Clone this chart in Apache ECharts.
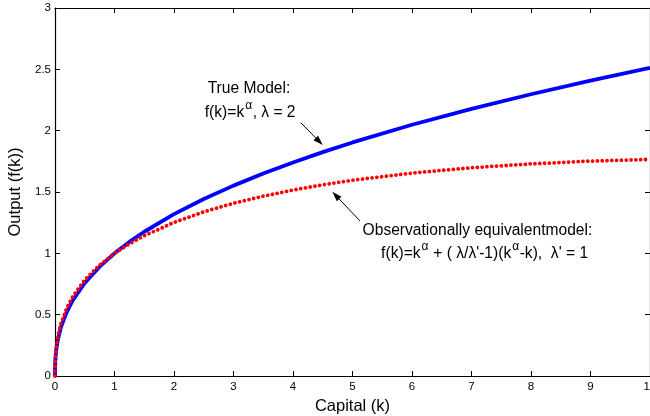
<!DOCTYPE html>
<html>
<head>
<meta charset="utf-8">
<script src="https://cdn.jsdelivr.net/npm/echarts@6/dist/echarts.min.js"></script>
<style>
html,body{margin:0;padding:0;background:#fff;}
#c{width:650px;height:416px;}
</style>
</head>
<body>
<div id="c"></div>
<script>
// Capital values (k)
var capital = [0, 0.001, 0.005, 0.01, 0.02, 0.05, 0.1, 0.2, 0.3, 0.5, 0.75, 1, 1.25, 1.5, 2, 2.5, 3, 3.5, 4, 4.5, 5, 6, 7, 8, 9, 10];
// True model output (blue solid)
var trueModel = [0, 0.063, 0.120, 0.158, 0.209, 0.302, 0.398, 0.525, 0.618, 0.758, 0.891, 1.000, 1.093, 1.176, 1.320, 1.443, 1.552, 1.651, 1.741, 1.825, 1.904, 2.048, 2.178, 2.297, 2.408, 2.512];
// Observationally equivalent model output (red dotted)
var equivModel = [0, 0.069, 0.131, 0.173, 0.228, 0.327, 0.428, 0.557, 0.650, 0.784, 0.905, 1.000, 1.077, 1.144, 1.252, 1.338, 1.408, 1.466, 1.516, 1.559, 1.596, 1.654, 1.698, 1.729, 1.752, 1.766];
var xTicks = [0, 1, 2, 3, 4, 5, 6, 7, 8, 9, 10];
var yTicks = [0, 0.5, 1, 1.5, 2, 2.5, 3];

function pairs(xs, ys) { return xs.map(function (x, i) { return [x, ys[i]]; }); }

var FONT = '"Liberation Sans", Arial, sans-serif';
var chart = echarts.init(document.getElementById('c'), null, { renderer: 'canvas' });

var axisCommon = {
  axisLine: { show: true, onZero: false, lineStyle: { color: '#000', width: 1.2 } },
  axisTick: { show: true, inside: true, length: 5, lineStyle: { color: '#000', width: 1 } },
  splitLine: { show: false }
};

var option = {
  animation: false,
  backgroundColor: '#fff',
  grid: { left: 55, right: 0, top: 8, bottom: 40, containLabel: false, outerBoundsMode: 'none' },
  xAxis: [
    Object.assign({
      type: 'value', min: xTicks[0], max: xTicks[xTicks.length - 1], interval: 1, position: 'bottom',
      name: 'Capital (k)', nameLocation: 'middle', nameGap: 22,
      nameTextStyle: { fontFamily: FONT, fontSize: 16.5, color: '#000' },
      axisLabel: { fontFamily: FONT, fontSize: 11.5, color: '#000', margin: 5, showMaxLabel: true, hideOverlap: false }
    }, axisCommon),
    Object.assign({
      type: 'value', min: xTicks[0], max: xTicks[xTicks.length - 1], interval: 1, position: 'top',
      axisLabel: { show: false }
    }, axisCommon)
  ],
  yAxis: [
    Object.assign({
      type: 'value', min: yTicks[0], max: yTicks[yTicks.length - 1], interval: 0.5, position: 'left',
      name: 'Output (f(k))', nameLocation: 'middle', nameGap: 28, nameRotate: 90,
      nameTextStyle: { fontFamily: FONT, fontSize: 16.5, color: '#000' },
      axisLabel: { fontFamily: FONT, fontSize: 11.5, color: '#000', margin: 4 }
    }, axisCommon),
    Object.assign({
      type: 'value', min: yTicks[0], max: yTicks[yTicks.length - 1], interval: 0.5, position: 'right',
      axisLabel: { show: false }
    }, axisCommon)
  ],
  series: [
    {
      type: 'line', name: 'True Model', data: pairs(capital, trueModel),
      showSymbol: false, symbol: 'none', smooth: false, clip: true,
      lineStyle: { color: '#0000ff', width: 3.8 }
    },
    {
      type: 'line', name: 'Observationally equivalent model', data: pairs(capital, equivModel),
      showSymbol: false, symbol: 'none', smooth: false, clip: true,
      lineStyle: { color: '#ff0000', width: 3.8, type: [0.01, 4.8], cap: 'round' }
    }
  ]
};
chart.setOption(option);

// Annotations positioned in data coordinates (text centres)
var notes = {
  trueText1: [3.26, 2.34],
  trueText2: [3.28, 2.144],
  trueArrowFrom: [4.13, 2.065],
  trueArrowTo: [4.5, 1.883],
  eqText1: [7.10, 1.184],
  eqText2: [7.22, 0.995],
  eqArrowFrom: [5.126, 1.264],
  eqArrowTo: [4.66, 1.502]
};
function px(p) { return chart.convertToPixel({ xAxisIndex: 0, yAxisIndex: 0 }, p); }

var MAIN_SIZE = 15.6, SUP_SIZE = 12, SUP_RAISE = 7;
var measureCtx = document.createElement('canvas').getContext('2d');
function measure(t, size) {
  measureCtx.font = size + 'px ' + FONT;
  return measureCtx.measureText(t).width;
}
// segments: array of [text, isSuperscript]
function lineEls(p, segments) {
  var q = px(p);
  var widths = segments.map(function (s) { return measure(s[0], s[1] ? SUP_SIZE : MAIN_SIZE) + (s[1] ? 1.5 : 0); });
  var total = widths.reduce(function (a, b) { return a + b; }, 0);
  var x = q[0] - total / 2;
  var out = [];
  segments.forEach(function (s, i) {
    out.push({
      type: 'text', x: x + (s[1] ? 1 : 0), y: q[1] - (s[1] ? SUP_RAISE : 0), z: 100,
      style: {
        text: s[0], fontFamily: FONT, fontSize: s[1] ? SUP_SIZE : MAIN_SIZE, fill: '#000',
        align: 'left', verticalAlign: 'middle'
      }
    });
    x += widths[i];
  });
  return out;
}
function arrowEls(from, to) {
  var a = px(from), b = px(to);
  var dx = b[0] - a[0], dy = b[1] - a[1];
  var L = Math.sqrt(dx * dx + dy * dy);
  var ux = dx / L, uy = dy / L;
  var hl = 10, hw = 3.2;
  var bx = b[0] - ux * hl, by = b[1] - uy * hl;
  return [
    { type: 'line', z: 100, shape: { x1: a[0], y1: a[1], x2: bx, y2: by }, style: { stroke: '#000', lineWidth: 1 } },
    { type: 'polygon', z: 100, shape: { points: [[b[0], b[1]], [bx - uy * hw, by + ux * hw], [bx + uy * hw, by - ux * hw]] }, style: { fill: '#000' } }
  ];
}

var els = [];
els = els.concat(lineEls(notes.trueText1, [['True Model:', false]]));
els = els.concat(lineEls(notes.trueText2, [['f(k)=k', false], ['α', true], [', λ = 2', false]]));
els = els.concat(lineEls(notes.eqText1, [['Observationally equivalentmodel:', false]]));
els = els.concat(lineEls(notes.eqText2, [['f(k)=k', false], ['α', true], [" + ( λ/λ'-1)(k", false], ['α', true], ["-k),  λ' = 1", false]]));
els = els.concat(arrowEls(notes.trueArrowFrom, notes.trueArrowTo));
els = els.concat(arrowEls(notes.eqArrowFrom, notes.eqArrowTo));
chart.setOption({ graphic: { elements: els } });
</script>
</body>
</html>
